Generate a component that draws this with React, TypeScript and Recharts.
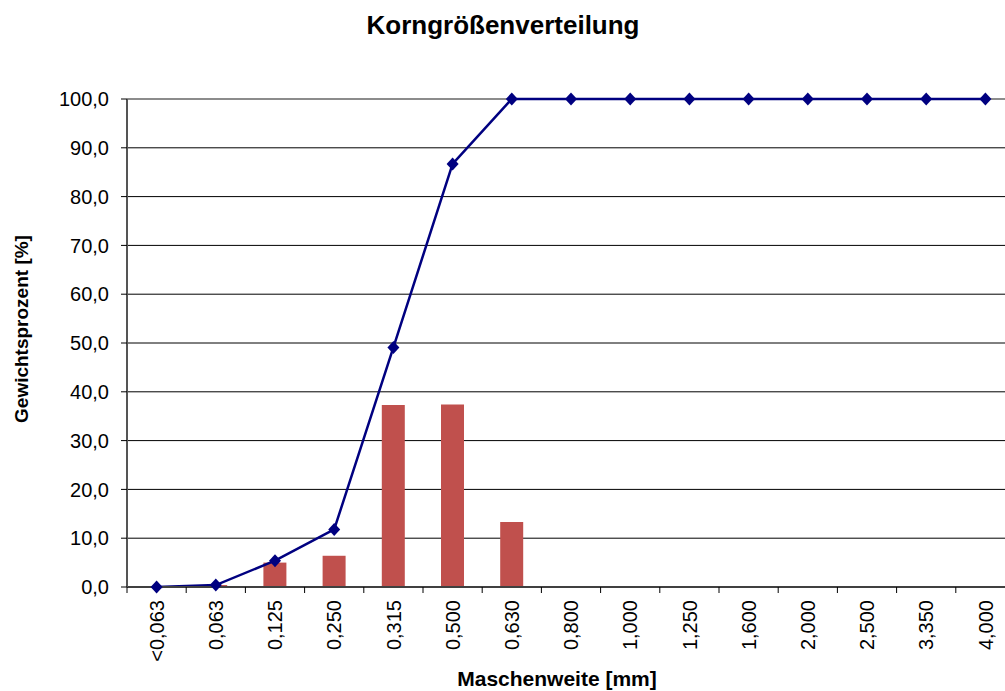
import React from 'react';
import {
  ComposedChart,
  Bar,
  Line,
  XAxis,
  YAxis,
  CartesianGrid,
  ReferenceLine,
  Customized,
} from 'recharts';

const categories = [
  '<0,063', '0,063', '0,125', '0,250', '0,315', '0,500', '0,630', '0,800',
  '1,000', '1,250', '1,600', '2,000', '2,500', '3,350', '4,000',
];
const retained = [0, 0.4, 5.0, 6.4, 37.3, 37.4, 13.3, 0, 0, 0, 0, 0, 0, 0, 0];
const passing = [0, 0.4, 5.4, 11.8, 49.1, 86.7, 100, 100, 100, 100, 100, 100, 100, 100, 100];
const yTicks = [0, 10, 20, 30, 40, 50, 60, 70, 80, 90, 100];

const chartTitle = 'Korngrößenverteilung';
const xTitle = 'Maschenweite [mm]';
const yTitle = 'Gewichtsprozent [%]';

const data = categories.map((c, i) => ({ name: c, bar: retained[i], line: passing[i] }));

const FONT = '"Liberation Sans", Arial, sans-serif';
const CHART_W = 1020;
const CHART_H = 691;
const MARGIN = { top: 99, right: 5, bottom: 0, left: 0 };
const Y_W = 127;
const X_H = 104;
const PLOT_W = CHART_W - MARGIN.left - MARGIN.right - Y_W;
const BAND = PLOT_W / categories.length;
const TICK_SIZE = 6;
const TICK_MARGIN = 7;

const XTick = (props: any) => {
  const { x, y, payload, index } = props;
  const axisY = y - TICK_SIZE - TICK_MARGIN;
  const left = x - BAND / 2;
  return (
    <g>
      <line x1={left} y1={axisY} x2={left} y2={axisY + TICK_SIZE} stroke="#000" strokeWidth={1} />
      {index === categories.length - 1 && (
        <line x1={x + BAND / 2} y1={axisY} x2={x + BAND / 2} y2={axisY + TICK_SIZE} stroke="#000" />
      )}
      <text
        transform={`translate(${x},${y}) rotate(-90)`}
        textAnchor="end"
        dy="0.36em"
        fontSize={20}
        fontFamily={FONT}
        fill="#000"
      >
        {payload.value}
      </text>
    </g>
  );
};

const Diamond = (props: any) => {
  const { cx, cy } = props;
  if (cx == null || cy == null) return null;
  return (
    <polygon
      points={`${cx},${cy - 6.5} ${cx + 6},${cy} ${cx},${cy + 6.5} ${cx - 6},${cy}`}
      fill="#000080"
      stroke="none"
    />
  );
};

const Titles = () => (
  <g fontFamily={FONT} fontWeight="bold" fill="#000">
    <text x={503} y={34} textAnchor="middle" fontSize={26}>
      {chartTitle}
    </text>
    <text x={557} y={686} textAnchor="middle" fontSize={21}>
      {xTitle}
    </text>
    <text transform="translate(28,329) rotate(-90)" textAnchor="middle" fontSize={19}>
      {yTitle}
    </text>
  </g>
);

export default function App() {
  return (
    <div
      style={{
        position: 'fixed',
        left: 0,
        top: 0,
        width: 1005,
        height: 691,
        overflow: 'hidden',
        background: '#fff',
      }}
    >
      <ComposedChart width={CHART_W} height={CHART_H} data={data} margin={MARGIN}>
        <CartesianGrid vertical={false} stroke="#000" strokeWidth={1} strokeDasharray="" />
        <ReferenceLine y={100} stroke="#8c8c8c" strokeWidth={2} />
        <XAxis
          dataKey="name"
          height={X_H}
          interval={0}
          tickLine={false}
          tickSize={TICK_SIZE}
          tickMargin={TICK_MARGIN}
          tick={<XTick />}
          axisLine={{ stroke: '#404040', strokeWidth: 2 }}
        />
        <YAxis
          width={Y_W}
          domain={[0, 100]}
          ticks={yTicks}
          interval={0}
          tickSize={TICK_SIZE}
          tickMargin={12}
          tickLine={{ stroke: '#000' }}
          axisLine={{ stroke: '#555', strokeWidth: 2 }}
          tickFormatter={(v: number) => v.toFixed(1).replace('.', ',')}
          tick={{ fontSize: 20, fontFamily: FONT, fill: '#000' }}
        />
        <Bar dataKey="bar" fill="#C0504D" barSize={23} isAnimationActive={false} />
        <Line
          dataKey="line"
          stroke="#000080"
          strokeWidth={2.5}
          dot={<Diamond />}
          activeDot={false}
          isAnimationActive={false}
        />
        <Customized component={Titles} />
      </ComposedChart>
    </div>
  );
}
